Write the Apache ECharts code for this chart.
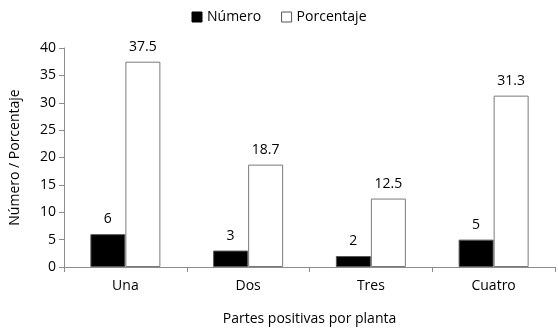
<!DOCTYPE html>
<html>
<head>
<meta charset="utf-8">
<script src="https://cdn.jsdelivr.net/npm/echarts@6/dist/echarts.min.js"></script>
<style>
html, body { margin: 0; padding: 0; background: #fff; }
#chart { width: 558px; height: 336px; }
</style>
</head>
<body>
<div id="chart"></div>
<script>
// Parts positive per plant: counts and percentages
const categories = ['Una', 'Dos', 'Tres', 'Cuatro'];
const numero = [6, 3, 2, 5];
const porcentaje = [37.5, 18.7, 12.5, 31.3];
const yTicks = [0, 5, 10, 15, 20, 25, 30, 35, 40];

const FONT = '"Open Sans", "Noto Sans", sans-serif';
const AXIS_GREY = '#8c8c8c';

const chart = echarts.init(document.getElementById('chart'), null, { renderer: 'canvas' });

chart.setOption({
  animation: false,
  backgroundColor: '#fff',
  textStyle: { fontFamily: FONT, color: '#000' },
  legend: {
    top: 5,
    left: 'center',
    icon: 'rect',
    itemWidth: 10,
    itemHeight: 10,
    itemGap: 20,
    textStyle: { fontFamily: FONT, fontSize: 14, color: '#000' },
    data: [
      { name: 'Número', itemStyle: { color: '#000', borderColor: '#000', borderWidth: 1 } },
      { name: 'Porcentaje', itemStyle: { color: '#fff', borderColor: '#555', borderWidth: 1 } }
    ]
  },
  grid: { left: 62, right: 3, top: 48, bottom: 69, containLabel: false },
  xAxis: {
    type: 'category',
    data: categories,
    name: 'Partes positivas por planta',
    nameLocation: 'middle',
    nameGap: 45,
    nameTextStyle: { fontFamily: FONT, fontSize: 14, color: '#000' },
    axisLine: { lineStyle: { color: AXIS_GREY, width: 1 } },
    axisTick: { show: true, length: 5, lineStyle: { color: AXIS_GREY }, alignWithLabel: false },
    axisLabel: { fontFamily: FONT, fontSize: 14, color: '#000', margin: 12 }
  },
  yAxis: {
    type: 'value',
    min: yTicks[0],
    max: yTicks[yTicks.length - 1],
    interval: yTicks[1] - yTicks[0],
    name: 'Número / Porcentaje',
    nameLocation: 'middle',
    nameGap: 42,
    nameRotate: 90,
    nameTextStyle: { fontFamily: FONT, fontSize: 14, color: '#000' },
    axisLine: { show: true, lineStyle: { color: AXIS_GREY, width: 1 } },
    axisTick: { show: true, length: 5, lineStyle: { color: AXIS_GREY } },
    axisLabel: { fontFamily: FONT, fontSize: 14, color: '#000', margin: 8 },
    splitLine: { show: false }
  },
  series: [
    {
      name: 'Número',
      type: 'bar',
      data: numero,
      barWidth: 35,
      barGap: '0%',
      itemStyle: { color: '#000', borderColor: '#555', borderWidth: 1 },
      label: { show: true, position: 'top', distance: 8, fontFamily: FONT, fontSize: 14, color: '#000' }
    },
    {
      name: 'Porcentaje',
      type: 'bar',
      data: porcentaje,
      barWidth: 35,
      barGap: '0%',
      itemStyle: { color: '#fff', borderColor: '#7a7a7a', borderWidth: 1 },
      label: { show: true, position: 'top', distance: 8, fontFamily: FONT, fontSize: 14, color: '#000' }
    }
  ]
});
</script>
</body>
</html>
